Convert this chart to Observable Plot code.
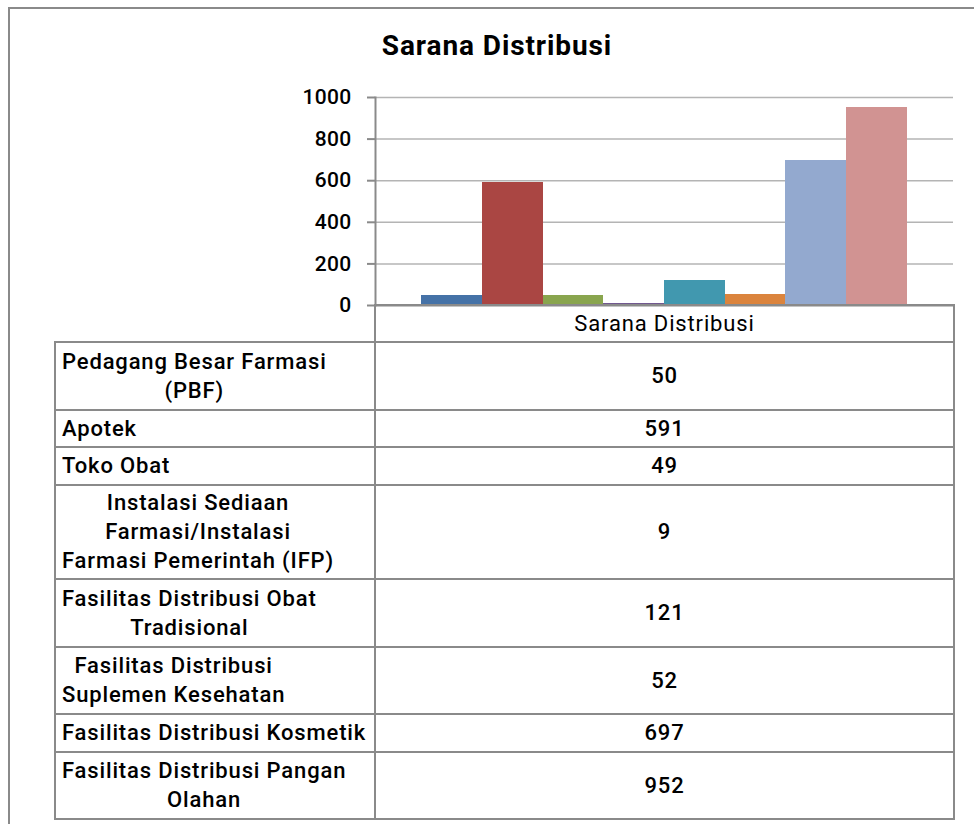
<!DOCTYPE html>
<html>
<head>
<meta charset="utf-8">
<script src="https://cdn.jsdelivr.net/npm/d3@7"></script>
<script src="https://cdn.jsdelivr.net/npm/@observablehq/plot@0.6"></script>
<style>
  html, body { margin: 0; padding: 0; background: #fff; }
  body { width: 974px; height: 824px; overflow: hidden; position: relative; font-family: Roboto, "Noto Sans", sans-serif; color: #000; }
  #frame { position: absolute; left: 8px; top: 7px; width: 1000px; height: 900px; border: 2px solid #8a8a8a; box-sizing: border-box; }
  #title { position: absolute; left: 0; width: 994px; top: 30px; text-align: center; font-size: 28px; font-weight: 700; letter-spacing: 0.9px; line-height: 32px; }
  #chart { position: absolute; left: 0; top: 0; }
  #tbl { position: absolute; left: 54px; top: 304px; border-collapse: collapse; table-layout: fixed; font-size: 22px; font-weight: 500; letter-spacing: 0.85px; }
  #tbl td { border: 2px solid #8a8a8a; padding: 0; vertical-align: middle; }
  #tbl td.lab { text-align: left; padding-left: 6px; }
  #tbl td.lab div { display: inline-block; text-align: center; white-space: pre-line; line-height: 29px; }
  #tbl td.val { text-align: center; }
  #tbl td.blank { border: none; border-right: 2px solid #8a8a8a; }
</style>
</head>
<body>
<div id="frame"></div>
<div id="title"></div>
<div id="chart"></div>
<table id="tbl"><colgroup><col style="width:320px"><col style="width:579px"></colgroup><tbody></tbody></table>
<script>
const chartTitle = "Sarana Distribusi";
const category = "Sarana Distribusi";
const labels = [
  "Pedagang Besar Farmasi\n(PBF)",
  "Apotek",
  "Toko Obat",
  "Instalasi Sediaan\nFarmasi/Instalasi\nFarmasi Pemerintah (IFP)",
  "Fasilitas Distribusi Obat\nTradisional",
  "Fasilitas Distribusi\nSuplemen Kesehatan",
  "Fasilitas Distribusi Kosmetik",
  "Fasilitas Distribusi Pangan\nOlahan"
];
const values = [50, 591, 49, 9, 121, 52, 697, 952];
const colors = ["#4572A7", "#AA4643", "#89A54E", "#71588F", "#4198AF", "#DB843D", "#93A9CF", "#D19392"];
const yTicks = [0, 200, 400, 600, 800, 1000];

const data = labels.map((label, i) => ({label, value: values[i]}));

document.getElementById("title").textContent = chartTitle;

const chart = Plot.plot({
  width: 974,
  height: 310,
  marginLeft: 375,
  marginRight: 21,
  marginTop: 97,
  marginBottom: 5,
  style: {fontFamily: "Roboto, sans-serif", fontSize: "21px", fontWeight: 500, color: "#000", background: "transparent", overflow: "visible", letterSpacing: "0.3px"},
  x: {domain: labels, axis: null, paddingInner: 0, paddingOuter: 0.76, round: false},
  y: {domain: [0, 1000], axis: null},
  color: {domain: labels, range: colors},
  marks: [
    Plot.gridY(yTicks.filter(d => d > 0), {stroke: "#b4b4b4", strokeOpacity: 1, strokeWidth: 1.5}),
    Plot.barY(data, {x: "label", y: "value", fill: "label", inset: 0, shapeRendering: "crispEdges"}),
    Plot.ruleY([0], {stroke: "#8a8a8a", strokeWidth: 2}),
    Plot.frame({anchor: "left", stroke: "#8a8a8a", strokeWidth: 2}),
    Plot.axisY(yTicks, {anchor: "left", tickSize: 8, tickPadding: 16, tickFormat: d3.format("d"), label: null, stroke: "#8a8a8a", fill: "#000", strokeWidth: 2})
  ]
});
document.getElementById("chart").appendChild(chart);

const tbody = document.querySelector("#tbl tbody");
const rowH = {1: 37.5, 2: 67.5, 3: 94.5};
// header row
{
  const tr = document.createElement("tr");
  tr.style.height = "37px";
  const a = document.createElement("td"); a.className = "blank";
  const b = document.createElement("td"); b.className = "val"; b.textContent = category;
  b.style.fontWeight = 400;
  tr.append(a, b);
  tbody.appendChild(tr);
}
labels.forEach((lab, i) => {
  const tr = document.createElement("tr");
  tr.style.height = rowH[lab.split("\n").length] + "px";
  const a = document.createElement("td"); a.className = "lab";
  const d = document.createElement("div"); d.textContent = lab; a.appendChild(d);
  const b = document.createElement("td"); b.className = "val"; b.textContent = values[i];
  tr.append(a, b);
  tbody.appendChild(tr);
});
</script>
</body>
</html>
